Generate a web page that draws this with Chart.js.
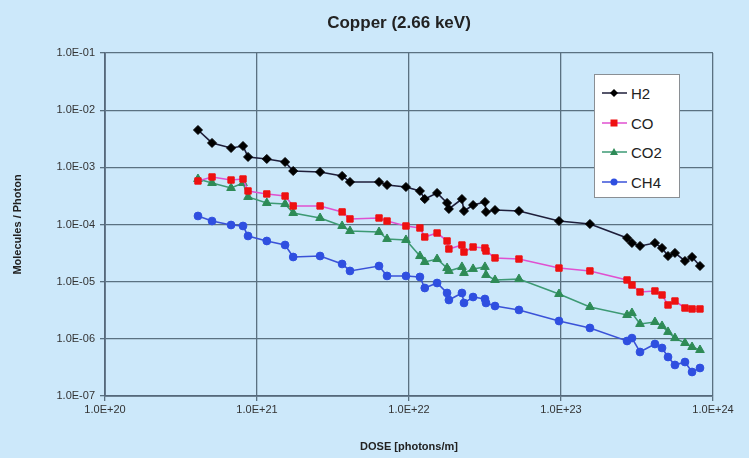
<!DOCTYPE html>
<html>
<head>
<meta charset="utf-8">
<script src="https://cdn.jsdelivr.net/npm/chart.js@4/dist/chart.umd.min.js"></script>
<style>
  html, body { margin: 0; padding: 0; background: #cce8fa; }
  #wrap { position: relative; width: 749px; height: 458px; }
  #legend {
    position: absolute; left: 594px; top: 74px; width: 84px; height: 122px;
    background: #ffffff; border: 1px solid #8a8f94;
    font-family: Arial, "Liberation Sans", sans-serif; font-size: 15px; color: #222;
  }
  .item { position: absolute; left: 6px; height: 20px; display: flex; align-items: center; }
  .item svg { display: block; }
  .item span { margin-left: 3px; }
</style>
</head>
<body>
<div id="wrap">
  <canvas id="c" width="749" height="458"></canvas>
  <div id="legend"></div>
</div>
<script>
const chartTitle = 'Copper (2.66 keV)';
const xTitle = 'DOSE [photons/m]';
const yTitle = 'Molecules / Photon';
const seriesNames = ['H2', 'CO', 'CO2', 'CH4'];

const doses = [4.09e20, 5.06e20, 6.75e20, 8.09e20, 8.73e20, 1.16e21, 1.53e21, 1.73e21, 2.60e21, 3.63e21,
  4.09e21, 6.35e21, 7.17e21, 9.55e21, 1.18e22, 1.27e22, 1.53e22, 1.78e22, 1.83e22, 2.23e22,
  2.30e22, 2.64e22, 3.16e22, 3.21e22, 3.68e22, 5.29e22, 9.70e22, 1.55e23, 2.72e23, 2.93e23,
  3.31e23, 4.15e23, 4.62e23, 5.06e23, 5.62e23, 6.54e23, 7.28e23, 8.21e23];

const h2 = [4.50e-3, 2.67e-3, 2.18e-3, 2.36e-3, 1.52e-3, 1.40e-3, 1.24e-3, 8.63e-4, 8.29e-4, 7.06e-4,
  5.54e-4, 5.54e-4, 4.91e-4, 4.53e-4, 3.86e-4, 2.79e-4, 3.56e-4, 2.38e-4, 1.87e-4, 2.79e-4,
  1.72e-4, 2.19e-4, 2.48e-4, 1.66e-4, 1.79e-4, 1.72e-4, 1.15e-4, 1.02e-4, 5.81e-5, 4.75e-5,
  4.21e-5, 4.75e-5, 3.88e-5, 2.81e-5, 3.18e-5, 2.30e-5, 2.70e-5, 1.88e-5];

const co = [5.77e-4, 6.78e-4, 6.00e-4, 6.25e-4, 3.86e-4, 3.42e-4, 3.15e-4, 2.11e-4, 2.11e-4, 1.66e-4,
  1.25e-4, 1.30e-4, 1.15e-4, 9.42e-5, 8.69e-5, 6.05e-5, 7.10e-5, 5.15e-5, 3.73e-5, 4.38e-5,
  3.30e-5, 4.04e-5, 3.88e-5, 3.44e-5, 2.60e-5, 2.49e-5, 1.73e-5, 1.54e-5, 1.07e-5, 8.74e-6,
  6.60e-6, 6.87e-6, 5.85e-6, 3.91e-6, 4.59e-6, 3.46e-6, 3.33e-6, 3.33e-6];

const co2 = [6.25e-4, 5.32e-4, 4.35e-4, 5.32e-4, 3.03e-4, 2.38e-4, 2.28e-4, 1.59e-4, 1.30e-4, 9.42e-5,
  7.70e-5, 7.39e-5, 5.58e-5, 5.36e-5, 2.81e-5, 2.21e-5, 2.49e-5, 1.73e-5, 1.54e-5, 1.81e-5,
  1.42e-5, 1.67e-5, 1.81e-5, 1.31e-5, 1.07e-5, 1.11e-5, 6.09e-6, 3.61e-6, 2.61e-6, 2.83e-6,
  1.82e-6, 1.97e-6, 1.68e-6, 1.32e-6, 1.03e-6, 8.46e-7, 7.20e-7, 6.38e-7];

const ch4 = [1.41e-4, 1.15e-4, 9.80e-5, 9.42e-5, 6.30e-5, 5.15e-5, 4.38e-5, 2.70e-5, 2.81e-5, 2.04e-5,
  1.54e-5, 1.88e-5, 1.26e-5, 1.26e-5, 1.21e-5, 7.75e-6, 9.48e-6, 6.34e-6, 4.78e-6, 6.34e-6,
  4.24e-6, 5.39e-6, 4.98e-6, 4.24e-6, 3.75e-6, 3.20e-6, 2.05e-6, 1.55e-6, 9.17e-7, 1.03e-6,
  5.89e-7, 8.12e-7, 6.92e-7, 4.81e-7, 3.49e-7, 3.93e-7, 2.63e-7, 3.09e-7];

const xTickValues = [1e20, 1e21, 1e22, 1e23, 1e24];
const xTickLabels = ['1.0E+20', '1.0E+21', '1.0E+22', '1.0E+23', '1.0E+24'];
const yTickValues = [1e-7, 1e-6, 1e-5, 1e-4, 1e-3, 1e-2, 1e-1];
const yTickLabels = ['1.0E-07', '1.0E-06', '1.0E-05', '1.0E-04', '1.0E-03', '1.0E-02', '1.0E-01'];

const styles = [
  { line: '#1e1e3a', point: '#000000', shape: 'rectRot', r: 4.5 },
  { line: '#e050d0', point: '#ee1111', shape: 'rect', r: 4.5 },
  { line: '#3d9a74', point: '#2e8b57', shape: 'triangle', r: 5 },
  { line: '#3a52d8', point: '#2f4fe0', shape: 'circle', r: 3.9 }
];
const values = [h2, co, co2, ch4];

const gridColor = '#5a7181';
const font = 'Arial, "Liberation Sans", sans-serif';

const datasets = seriesNames.map((name, i) => ({
  label: name,
  data: doses.map((d, j) => ({ x: d, y: values[i][j] })),
  borderColor: styles[i].line,
  backgroundColor: styles[i].point,
  pointBackgroundColor: styles[i].point,
  pointBorderColor: styles[i].point,
  pointStyle: styles[i].shape,
  pointRadius: styles[i].r,
  pointBorderWidth: 1,
  borderWidth: 1.6,
  tension: 0,
  order: i
}));

const titlePlugin = {
  id: 'topTitle',
  afterDraw(chart) {
    const ctx = chart.ctx;
    ctx.save();
    ctx.font = 'bold 17px ' + font;
    ctx.fillStyle = '#222';
    ctx.textAlign = 'center';
    ctx.textBaseline = 'middle';
    ctx.fillText(chartTitle, 399, 23);
    ctx.restore();
  }
};

new Chart(document.getElementById('c'), {
  type: 'line',
  data: { datasets },
  plugins: [titlePlugin],
  options: {
    responsive: false,
    animation: false,
    layout: { padding: { left: 0, right: 36, top: 53, bottom: 0 } },
    plugins: { legend: { display: false }, tooltip: { enabled: false }, title: { display: false } },
    scales: {
      x: {
        type: 'logarithmic', min: 1e20, max: 1e24,
        afterBuildTicks: s => { s.ticks = xTickValues.map(v => ({ value: v })); },
        afterFit: s => { s.height = 62; },
        ticks: {
          autoSkip: false, maxRotation: 0, padding: 2, color: '#333',
          font: { family: font, size: 11 },
          callback: (v, i) => xTickLabels[i]
        },
        grid: { color: gridColor, lineWidth: 1.3, tickLength: 5, tickColor: gridColor },
        border: { display: true, color: '#55687a', width: 1.8 },
        title: { display: true, text: xTitle, color: '#222', font: { family: font, size: 11, weight: 'bold' }, padding: { top: 4, bottom: 4 } }
      },
      y: {
        type: 'logarithmic', min: 1e-7, max: 1e-1,
        afterBuildTicks: s => { s.ticks = yTickValues.map(v => ({ value: v })); },
        afterFit: s => { s.width = 105; },
        ticks: {
          autoSkip: false, padding: 5, color: '#333',
          font: { family: font, size: 11 },
          callback: (v, i) => yTickLabels[i]
        },
        grid: { color: gridColor, lineWidth: 1.3, tickLength: 5, tickColor: gridColor },
        border: { display: true, color: '#55687a', width: 1.8 },
        title: { display: true, text: yTitle, color: '#222', font: { family: font, size: 11, weight: 'bold' }, padding: { top: 11, bottom: 4 } }
      }
    }
  }
});

// HTML legend built from the datasets
const legend = document.getElementById('legend');
const itemTops = [8, 38, 67, 97];
seriesNames.forEach((name, i) => {
  const st = styles[i];
  let shape = '';
  if (st.shape === 'rectRot') shape = '<polygon points="13,6 17,10 13,14 9,10" fill="' + st.point + '"/>';
  else if (st.shape === 'rect') shape = '<rect x="9.5" y="6.5" width="7" height="7" fill="' + st.point + '"/>';
  else if (st.shape === 'triangle') shape = '<polygon points="13,6 17,13 9,13" fill="' + st.point + '"/>';
  else shape = '<circle cx="13" cy="10" r="3.5" fill="' + st.point + '"/>';
  const div = document.createElement('div');
  div.className = 'item';
  div.style.top = itemTops[i] + 'px';
  div.innerHTML = '<svg width="27" height="20"><line x1="1" y1="10" x2="26" y2="10" stroke="' + st.line + '" stroke-width="1.5"/>' + shape + '</svg><span>' + name + '</span>';
  legend.appendChild(div);
});
</script>
</body>
</html>
